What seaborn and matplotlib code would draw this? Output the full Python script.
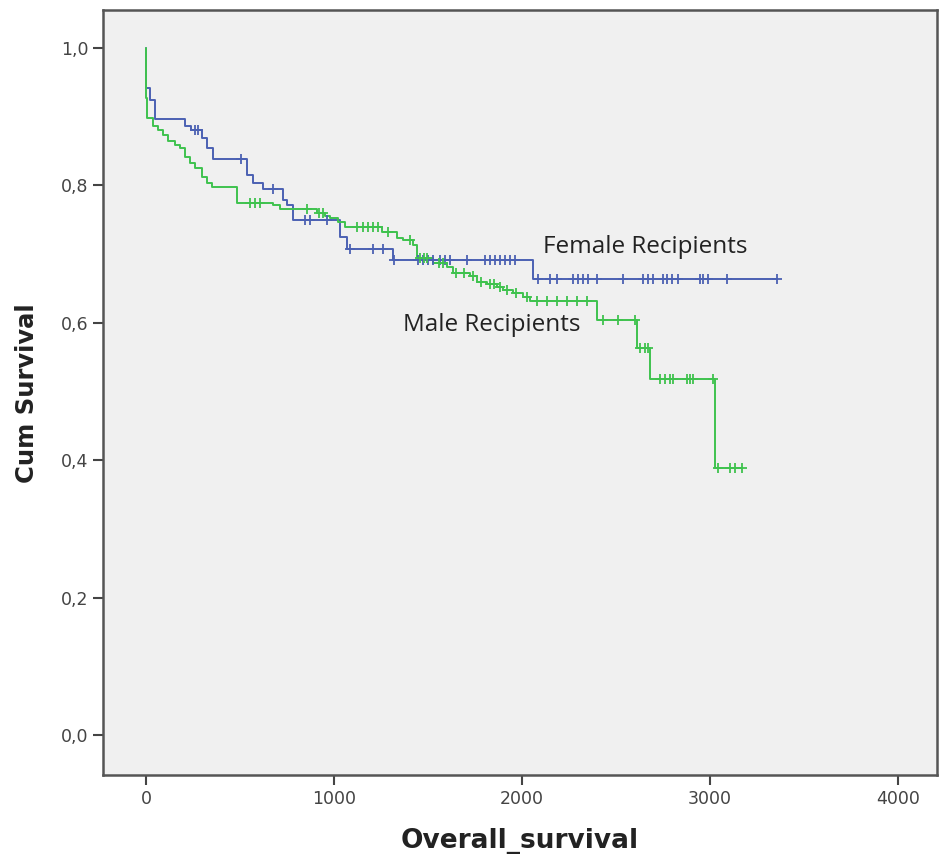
import numpy as np
import pandas as pd
import matplotlib
matplotlib.use("Agg")
import matplotlib.pyplot as plt
import seaborn as sns

# ---------------- data ----------------
female_times = [0, 2, 20, 48, 207, 240, 298, 324, 356, 537, 569, 620, 729, 750,
                782, 1032, 1069, 1314, 2059]
female_surv = [1.0, 0.941, 0.924, 0.896, 0.887, 0.880, 0.869, 0.855, 0.838, 0.815,
               0.803, 0.795, 0.778, 0.771, 0.749, 0.725, 0.707, 0.691, 0.663]
female_end = 3356
female_censor = [261, 275, 505, 676, 846, 872, 960, 1085, 1207, 1261, 1320, 1447,
                 1473, 1500, 1527, 1564, 1590, 1617, 1707, 1803, 1830, 1856, 1883,
                 1910, 1936, 1963, 2085, 2149, 2186, 2271, 2298, 2324, 2351, 2399,
                 2537, 2644, 2670, 2697, 2750, 2771, 2798, 2830, 2947, 2963, 2989,
                 3090, 3356]

male_times = [0, 1, 5, 37, 64, 90, 117, 154, 181, 207, 234, 261, 298, 324, 351,
              484, 676, 713, 910, 952, 979, 1021, 1059, 1255, 1335, 1367, 1420,
              1441, 1527, 1601, 1633, 1723, 1761, 1814, 1867, 1899, 1952, 2005,
              2043, 2399, 2612, 2681, 3027]
male_surv = [1.0, 0.927, 0.898, 0.887, 0.880, 0.873, 0.865, 0.858, 0.854, 0.841,
             0.832, 0.825, 0.812, 0.803, 0.797, 0.774, 0.771, 0.765, 0.759, 0.755,
             0.752, 0.746, 0.739, 0.732, 0.724, 0.720, 0.713, 0.694, 0.687, 0.681,
             0.673, 0.668, 0.660, 0.657, 0.652, 0.647, 0.643, 0.637, 0.631, 0.604,
             0.564, 0.518, 0.388]
male_end = 3170
male_censor = [553, 580, 606, 856, 920, 940, 1122, 1154, 1181, 1207, 1234, 1287,
               1404, 1457, 1480, 1495, 1560, 1580, 1650, 1690, 1740, 1780, 1830,
               1850, 1880, 1920, 1970, 2027, 2080, 2133, 2186, 2239, 2293, 2346,
               2431, 2511, 2601, 2628, 2654, 2670, 2734, 2761, 2787, 2803, 2878,
               2894, 2910, 3016, 3040, 3106, 3133, 3170]

x_ticks = [0, 1000, 2000, 3000, 4000]
y_ticks = [0.0, 0.2, 0.4, 0.6, 0.8, 1.0]
y_tick_labels = ["0,0", "0,2", "0,4", "0,6", "0,8", "1,0"]

female_color = "#4b61b3"
male_color = "#3fc24e"


def step_frame(times, surv, end):
    t = list(times) + [end]
    s = list(surv) + [surv[-1]]
    return pd.DataFrame({"time": t, "surv": s})


def censor_frame(times, surv, ctimes):
    t = np.asarray(times)
    s = np.asarray(surv)
    idx = np.searchsorted(t, np.asarray(ctimes), side="right") - 1
    return pd.DataFrame({"time": ctimes, "surv": s[idx]})


sns.set_theme(style="white")
plt.rcParams["font.family"] = ["DejaVu Sans"]

fig = plt.figure(figsize=(9.47, 8.65), dpi=100)
ax = fig.add_axes([0.1088, 0.104, 0.8806, 0.884])
ax.set_facecolor("#f0f0f0")

for times, surv, end, cens, col in [
    (female_times, female_surv, female_end, female_censor, female_color),
    (male_times, male_surv, male_end, male_censor, male_color),
]:
    df = step_frame(times, surv, end)
    sns.lineplot(data=df, x="time", y="surv", ax=ax, color=col, lw=1.4,
                 drawstyle="steps-post", estimator=None, sort=False)
    cdf = censor_frame(times, surv, cens)
    sns.scatterplot(data=cdf, x="time", y="surv", ax=ax, color=col, marker="+",
                    s=45, linewidth=1.3, zorder=3)

ax.set_xlim(-229, 4207)
ax.set_ylim(-0.058, 1.0545)
ax.set_xticks(x_ticks)
ax.set_xticklabels([str(v) for v in x_ticks])
ax.set_yticks(y_ticks)
ax.set_yticklabels(y_tick_labels)
ax.tick_params(axis="both", direction="out", length=7.5, width=1.5, color="#444444",
               labelsize=12.5, labelcolor="#444444", pad=3)
ax.tick_params(axis="both", bottom=True, left=True)

for sp in ax.spines.values():
    sp.set_color("#555555")
    sp.set_linewidth(1.8)

ax.set_xlabel("Overall_survival", fontsize=19, fontweight="bold", color="#222222",
              labelpad=15)
ax.set_ylabel("Cum Survival", fontsize=17.5, fontweight="bold", color="#222222",
              labelpad=16)

ax.text(2112, 0.701, "Female Recipients", fontsize=17.5, color="#222222",
        family=["Open Sans", "DejaVu Sans"], va="baseline", ha="left")
ax.text(1367, 0.588, "Male Recipients", fontsize=17.5, color="#222222",
        family=["Open Sans", "DejaVu Sans"], va="baseline", ha="left")

fig.savefig("out.png", dpi=100, facecolor="white")
